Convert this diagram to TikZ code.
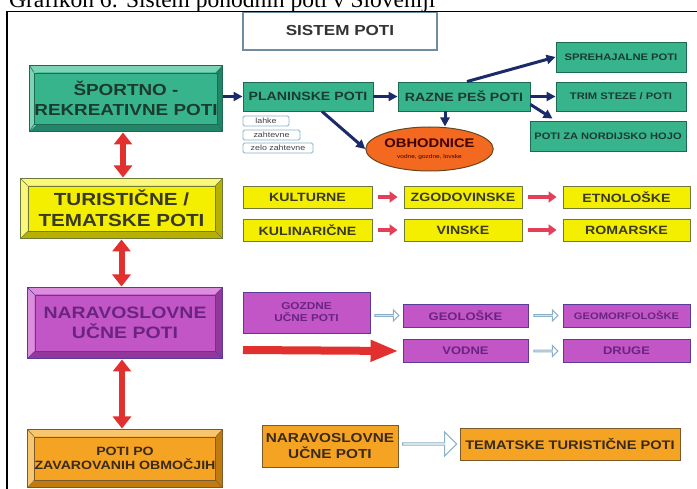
\documentclass[tikz,border=0pt]{standalone}
\usepackage{fontspec}
\setmainfont{Liberation Serif}
\setsansfont{Liberation Sans}
\newfontfamily\wsans{Liberation Sans}[FakeStretch=1.18]
\usetikzlibrary{arrows.meta,shapes.geometric,shapes.arrows,calc}

\definecolor{grn}{HTML}{38B48C}\definecolor{grnD}{HTML}{1E6A50}\definecolor{grnL}{HTML}{7CD3B6}\definecolor{grnS}{HTML}{22856A}\definecolor{grnT}{HTML}{1C3A2E}
\definecolor{yel}{HTML}{F4EE00}\definecolor{yelD}{HTML}{6E7A3A}\definecolor{yelL}{HTML}{FBF77A}\definecolor{yelS}{HTML}{B8B000}\definecolor{yelT}{HTML}{3A3A20}
\definecolor{pur}{HTML}{C256C6}\definecolor{purD}{HTML}{5A3A9A}\definecolor{purL}{HTML}{DA8EDC}\definecolor{purS}{HTML}{93389A}\definecolor{purT}{HTML}{6A2480}
\definecolor{orn}{HTML}{F5A322}\definecolor{ornD}{HTML}{7A5A2A}\definecolor{ornL}{HTML}{F9C670}\definecolor{ornS}{HTML}{C07A10}\definecolor{ornT}{HTML}{3A2A1A}
\definecolor{navy}{HTML}{1B2A6B}
\definecolor{redA}{HTML}{E2302E}
\definecolor{pinkA}{HTML}{E2405A}
\definecolor{ellF}{HTML}{F2691F}
\definecolor{hollow}{HTML}{8AB0C8}

\newcommand{\wf}[1]{\wsans\bfseries\fontsize{#1}{#1}\selectfont\setlength{\baselineskip}{1.2\baselineskip}}
\newcommand{\bevelbox}[7]{%
  \node[draw=#5D, line width=1pt, fill=#5, minimum width=#3, minimum height=#4, inner sep=0pt] (#1) at #2 {};
  \fill[#5S] (#1.south west) -- (#1.south east) -- ([xshift=-7pt,yshift=7pt]#1.south east) -- ([xshift=7pt,yshift=7pt]#1.south west) -- cycle;
  \fill[#5S] (#1.south east) -- (#1.north east) -- ([xshift=-7pt,yshift=-7pt]#1.north east) -- ([xshift=-7pt,yshift=7pt]#1.south east) -- cycle;
  \fill[#5L] (#1.north west) -- (#1.north east) -- ([xshift=-7pt,yshift=-7pt]#1.north east) -- ([xshift=7pt,yshift=-7pt]#1.north west) -- cycle;
  \fill[#5L] (#1.north west) -- (#1.south west) -- ([xshift=7pt,yshift=7pt]#1.south west) -- ([xshift=7pt,yshift=-7pt]#1.north west) -- cycle;
  \draw[#5D, line width=1pt] (#1.north west) rectangle (#1.south east);
  \node[draw=#5D, line width=0.8pt, fill=#5, minimum width=#3-14, minimum height=#4-14, inner sep=0pt, align=center, text=#5T, font={\wf{#7}}] (#1i) at #2 {#6};
  \draw[#5D, line width=0.5pt] (#1.north west)--(#1i.north west) (#1.north east)--(#1i.north east) (#1.south west)--(#1i.south west) (#1.south east)--(#1i.south east);
}

\tikzset{
  sbox/.style={draw, line width=0.9pt, inner sep=1pt, align=center, font=\wf{12}},
  gbox/.style={sbox, fill=grn, draw=grnD, text=grnT},
  ybox/.style={sbox, fill=yel, draw=yelD, text=yelT, font=\wf{12}, minimum height=22},
  pbox/.style={sbox, fill=pur, draw=purD, text=purT, font=\wf{11}, minimum height=23},
  obox/.style={sbox, fill=orn, draw=ornD, text=ornT, font=\wf{13}},
  tag/.style={draw=hollow, line width=0.8pt, rounded corners=1.5pt, fill=white, inner sep=0pt, font={\wsans\fontsize{7.5}{8}\selectfont}, text=black!75, minimum height=10},
  navyarr/.style={navy, line width=3pt, -{Triangle[length=9pt,width=9pt]}},
  reddbl/.style={redA, line width=6pt, {Triangle[length=12pt,width=18pt]}-{Triangle[length=12pt,width=18pt]}, shorten <=1pt, shorten >=1pt},
  pinkarr/.style={pinkA, line width=4.5pt, -{Triangle[length=8pt,width=11pt]}, shorten <=6pt, shorten >=6pt},
  hollowarr/.style={single arrow, draw=hollow, fill=white, line width=1pt, inner sep=0pt, single arrow head extend=3pt, single arrow head indent=0pt},
}

\begin{document}
\begin{tikzpicture}[x=1pt,y=-1pt]
\useasboundingbox[fill=white] (0,0) rectangle (697,489);

% title and frame
\node[anchor=base west, inner sep=0pt, font=\fontsize{23.5}{26}\selectfont] (title) at (9,8) {Grafikon 6: Sistem pohodnih poti v Sloveniji};
\node[draw=hollow!80!black, line width=1.5pt, fill=white, minimum width=194, minimum height=38, inner sep=0pt, font=\wf{14.5}, text=black!80] (sistem) at (340,31) {SISTEM POTI};
\draw[line width=1.8pt] (7,489) -- (7,11.5) -- (697,11.5);

% left big boxes
\bevelbox{sport}{(126,98.5)}{192}{65}{grn}{ŠPORTNO -\\REKREATIVNE POTI}{16}
\bevelbox{tur}{(121.5,208.5)}{201}{59}{yel}{TURISTIČNE /\\TEMATSKE POTI}{17.5}
\bevelbox{nar}{(125,323)}{194}{70}{pur}{NARAVOSLOVNE\\UČNE POTI}{16.5}
\bevelbox{zav}{(125,458.5)}{194}{57}{orn}{POTI PO\\ZAVAROVANIH OBMOČJIH}{12}

% green row
\node[gbox, minimum width=130, minimum height=29] (plan) at (308,96.5) {PLANINSKE POTI};
\node[gbox, minimum width=132, minimum height=29] (razne) at (464,96.5) {RAZNE PEŠ POTI};
\node[gbox, minimum width=130, minimum height=30, font=\wf{9.5}] (spreh) at (621,57) {SPREHAJALNE POTI};
\node[gbox, minimum width=130, minimum height=29, font=\wf{9.5}] (trim) at (621,96.5) {TRIM STEZE / POTI};
\node[gbox, minimum width=156, minimum height=30, font=\wf{9.4}] (nord) at (608,136) {POTI ZA NORDIJSKO HOJO};
\node[ellipse, draw=ornD!80!black, line width=1pt, fill=ellF, minimum width=127, minimum height=44, inner sep=0pt, align=center, text=black!75!red] (obh) at (429.5,149)
  {{\wf{12.5}OBHODNICE}\\[-1pt]{\wsans\fontsize{5.5}{6}\selectfont vodne, gozdne, lovske}};
\node[tag, minimum width=46] (lahke) at (266,121) {lahke};
\node[tag, minimum width=57] (zaht) at (271.5,135) {zahtevne};
\node[tag, minimum width=70] (zelo) at (278,148) {zelo zahtevne};

\draw[navyarr] (sport.east |- plan.west) -- (plan.west);
\draw[navyarr] (plan.east) -- (razne.west);
\draw[navyarr] ([xshift=3pt]razne.north) -- (spreh.west);
\draw[navyarr] (razne.east) -- (trim.west);
\draw[navyarr] ([yshift=-8pt]razne.east) -- ([xshift=23pt,yshift=2pt]nord.north west);
\draw[navyarr] ([xshift=-19pt]razne.south) -- ([xshift=-19pt]razne.south |- obh.north);
\draw[navyarr] ([xshift=14pt]plan.south) -- (obh.west);

% yellow rows
\node[ybox, minimum width=129] (kult) at (307.5,197) {KULTURNE};
\node[ybox, minimum width=118] (zgod) at (463,197) {ZGODOVINSKE};
\node[ybox, minimum width=127] (etno) at (626.5,197) {ETNOLOŠKE};
\node[ybox, minimum width=129] (kulin) at (307.5,230) {KULINARIČNE};
\node[ybox, minimum width=118] (vinsk) at (463,230) {VINSKE};
\node[ybox, minimum width=127] (romar) at (626.5,230) {ROMARSKE};
\draw[pinkarr] (kult) -- (zgod);
\draw[pinkarr] (zgod) -- (etno);
\draw[pinkarr] (kulin) -- (vinsk);
\draw[pinkarr] (vinsk) -- (romar);

% purple rows
\node[pbox, minimum width=127, minimum height=41, font=\wf{10}] (gozd) at (306.5,312.5) {GOZDNE\\UČNE POTI};
\node[pbox, minimum width=125] (geol) at (465.5,315.5) {GEOLOŠKE};
\node[pbox, minimum width=127, font=\wf{9.5}] (geom) at (626.5,315.5) {GEOMORFOLOŠKE};
\node[pbox, minimum width=125] (vodne) at (465.5,351) {VODNE};
\node[pbox, minimum width=127] (druge) at (626.5,351) {DRUGE};
\path (gozd.east |- geol.west) -- (geol.west) node[midway, hollowarr, minimum height=24, minimum width=11] (ha1) {};
\path (geol.east) -- (geom.west) node[midway, hollowarr, minimum height=24, minimum width=11] (ha2) {};
\path (vodne.east) -- (druge.west) node[midway, hollowarr, minimum height=24, minimum width=11] (ha3) {};
\coordinate (rstart) at (243,350);
\draw[redA, line width=8pt, -{Triangle[length=28pt,width=20pt]}] (rstart) -- ([xshift=-4pt]vodne.west);

% orange row
\node[obox, minimum width=136, minimum height=42] (naro) at (330,446) {NARAVOSLOVNE\\UČNE POTI};
\node[obox, minimum width=220, minimum height=32, font=\wf{12.4}] (temat) at (570,444) {TEMATSKE TURISTIČNE POTI};
\path (naro.east |- temat.west) -- (temat.west) node[midway, hollowarr, minimum height=54, minimum width=24, single arrow head extend=5pt] (ha4) {};

% red double arrows
\draw[reddbl] ([xshift=-3pt]sport.south) -- ([xshift=-3pt]sport.south |- tur.north);
\draw[reddbl] (tur.south) -- (tur.south |- nar.north);
\draw[reddbl] ([xshift=-3pt]nar.south) -- ([xshift=-3pt]nar.south |- zav.north);
\end{tikzpicture}
\end{document}
